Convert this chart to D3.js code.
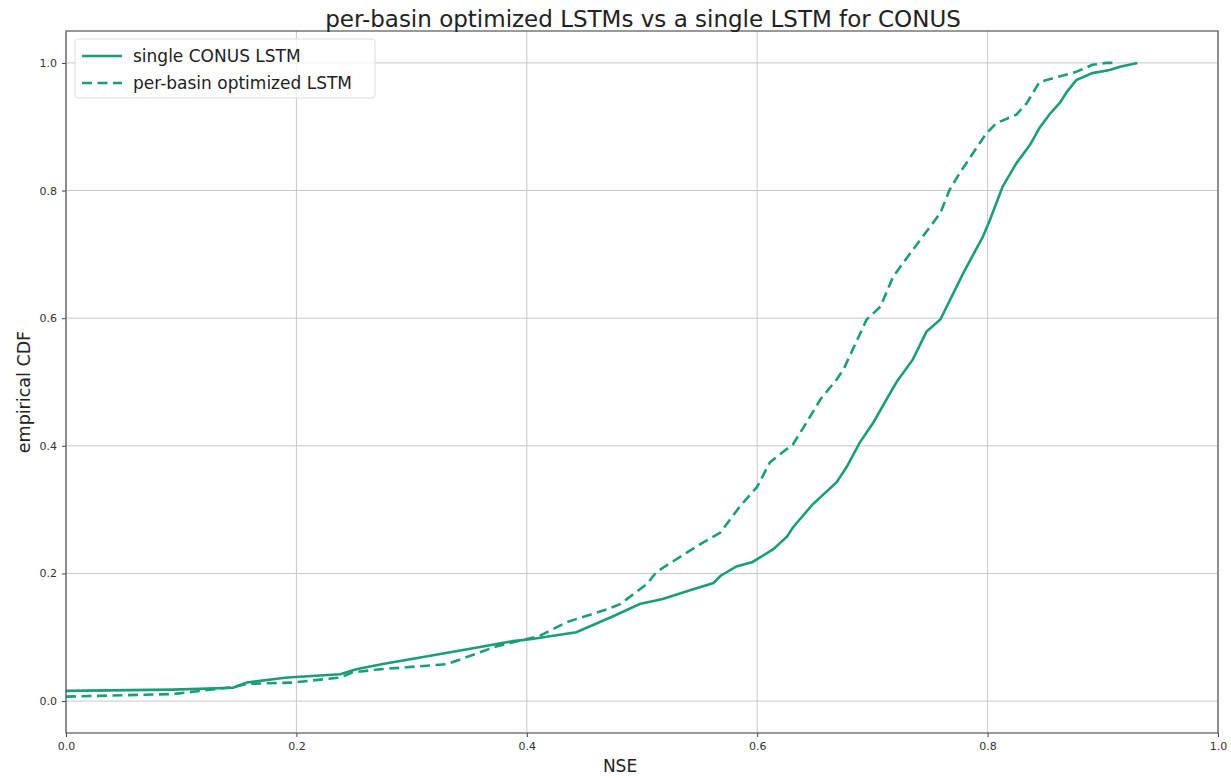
<!DOCTYPE html>
<html>
<head>
<meta charset="utf-8">
<script src="https://cdnjs.cloudflare.com/ajax/libs/d3/7.8.5/d3.min.js"></script>
<style>
  body { margin: 0; background: #fff; }
  text { font-family: "DejaVu Sans", sans-serif; }
</style>
</head>
<body>
<div id="chart"></div>
<script>
// values
var singleNse = [0, 0.093, 0.145, 0.157, 0.192, 0.238, 0.252, 0.275, 0.31, 0.357, 0.388, 0.403, 0.443, 0.475, 0.498, 0.518, 0.539, 0.562, 0.568, 0.582, 0.596, 0.614, 0.626, 0.631, 0.648, 0.669, 0.678, 0.689, 0.701, 0.713, 0.721, 0.735, 0.747, 0.759, 0.779, 0.796, 0.802, 0.813, 0.825, 0.837, 0.845, 0.854, 0.863, 0.869, 0.877, 0.891, 0.906, 0.915, 0.93];
var singleCdf = [0.016, 0.018, 0.021, 0.029, 0.037, 0.042, 0.05, 0.058, 0.069, 0.084, 0.094, 0.097, 0.108, 0.133, 0.152, 0.16, 0.172, 0.185, 0.196, 0.211, 0.218, 0.238, 0.258, 0.272, 0.308, 0.343, 0.368, 0.405, 0.437, 0.475, 0.5, 0.535, 0.579, 0.598, 0.671, 0.728, 0.754, 0.806, 0.843, 0.872, 0.898, 0.92, 0.938, 0.955, 0.973, 0.984, 0.989, 0.994, 1.0];

var basinNse = [0, 0.093, 0.145, 0.157, 0.197, 0.238, 0.249, 0.273, 0.296, 0.331, 0.374, 0.411, 0.435, 0.47, 0.481, 0.504, 0.513, 0.548, 0.568, 0.585, 0.6, 0.611, 0.622, 0.631, 0.643, 0.655, 0.669, 0.675, 0.695, 0.707, 0.718, 0.735, 0.75, 0.759, 0.767, 0.776, 0.799, 0.808, 0.825, 0.834, 0.845, 0.857, 0.877, 0.891, 0.903, 0.912];
var basinCdf = [0.007, 0.011, 0.022, 0.027, 0.029, 0.037, 0.045, 0.05, 0.053, 0.058, 0.086, 0.102, 0.124, 0.144, 0.152, 0.183, 0.203, 0.243, 0.264, 0.305, 0.336, 0.374, 0.39, 0.402, 0.437, 0.473, 0.504, 0.52, 0.598, 0.618, 0.665, 0.707, 0.743, 0.765, 0.801, 0.828, 0.89, 0.906, 0.919, 0.937, 0.97, 0.976, 0.986, 0.997, 1.0, 1.0];

var xTicks = [0, 0.2, 0.4, 0.6, 0.8, 1.0];
var yTicks = [0, 0.2, 0.4, 0.6, 0.8, 1.0];
var seriesNames = ["single CONUS LSTM", "per-basin optimized LSTM"];

var margin = {top: 31, right: 13, bottom: 45, left: 66},
    width = 1231 - margin.left - margin.right,
    height = 778 - margin.top - margin.bottom;

var color = "#1b9e77";

var svg = d3.select("#chart")
  .append("svg")
    .attr("width", 1231)
    .attr("height", 778)
  .append("g")
    .attr("transform", "translate(" + margin.left + "," + margin.top + ")");

var x = d3.scaleLinear().domain([0, 1]).range([0, width]);
var y = d3.scaleLinear().domain([-0.05, 1.05]).range([height, 0]);

// grid
svg.append("g")
  .selectAll("line.vg")
  .data(xTicks)
  .enter().append("line")
    .attr("x1", function (d) { return x(d); })
    .attr("x2", function (d) { return x(d); })
    .attr("y1", 0).attr("y2", height)
    .style("stroke", "#c8c8c8").style("stroke-width", 1);
svg.append("g")
  .selectAll("line.hg")
  .data(yTicks)
  .enter().append("line")
    .attr("y1", function (d) { return y(d); })
    .attr("y2", function (d) { return y(d); })
    .attr("x1", 0).attr("x2", width)
    .style("stroke", "#c8c8c8").style("stroke-width", 1);

// axes
var xAxis = svg.append("g")
  .attr("transform", "translate(0," + height + ")")
  .call(d3.axisBottom(x).tickValues(xTicks).tickFormat(d3.format(".1f")).tickSize(4).tickPadding(5));
var yAxis = svg.append("g")
  .call(d3.axisLeft(y).tickValues(yTicks).tickFormat(d3.format(".1f")).tickSize(4).tickPadding(5));
[xAxis, yAxis].forEach(function (a) {
  a.select(".domain").remove();
  a.selectAll("text").style("font-size", "11px").style("fill", "#333")
    .style("font-family", "DejaVu Sans, sans-serif");
  a.selectAll("line").style("stroke", "#444");
});

// lines
var line = d3.line()
  .x(function (d) { return x(d[0]); })
  .y(function (d) { return y(d[1]); });

svg.append("path")
  .datum(d3.zip(singleNse, singleCdf))
  .attr("d", line)
  .style("fill", "none")
  .style("stroke", color)
  .style("stroke-width", 2.6);

svg.append("path")
  .datum(d3.zip(basinNse, basinCdf))
  .attr("d", line)
  .style("fill", "none")
  .style("stroke", color)
  .style("stroke-width", 2.6)
  .style("stroke-dasharray", "10,5.5");

// frame
svg.append("rect")
  .attr("width", width).attr("height", height)
  .style("fill", "none").style("stroke", "#555").style("stroke-width", 1.2);

// title and labels
svg.append("text")
  .attr("x", width / 2 + 1).attr("y", -4)
  .attr("text-anchor", "middle")
  .style("font-size", "23px").style("fill", "#222")
  .text("per-basin optimized LSTMs vs a single LSTM for CONUS");

svg.append("text")
  .attr("x", width / 2 - 22).attr("y", height + 39)
  .attr("text-anchor", "middle")
  .style("font-size", "17px").style("fill", "#222")
  .text("NSE");

svg.append("text")
  .attr("transform", "translate(" + (-36) + "," + (height / 2 + 10) + ") rotate(-90)")
  .attr("text-anchor", "middle")
  .style("font-size", "17.5px").style("fill", "#222")
  .text("empirical CDF");

// legend
var legend = svg.append("g").attr("transform", "translate(9,8)");
legend.append("rect")
  .attr("width", 300).attr("height", 59).attr("rx", 3)
  .style("fill", "#fff").style("fill-opacity", 0.8)
  .style("stroke", "#ddd");
seriesNames.forEach(function (name, i) {
  var yy = 17 + i * 27;
  legend.append("line")
    .attr("x1", 7).attr("x2", 47).attr("y1", yy).attr("y2", yy)
    .style("stroke", color).style("stroke-width", 2.6)
    .style("stroke-dasharray", i === 1 ? "10,5.5" : null);
  legend.append("text")
    .attr("x", 58).attr("y", yy + 6)
    .style("font-size", "17px").style("fill", "#222")
    .text(name);
});
</script>
</body>
</html>
